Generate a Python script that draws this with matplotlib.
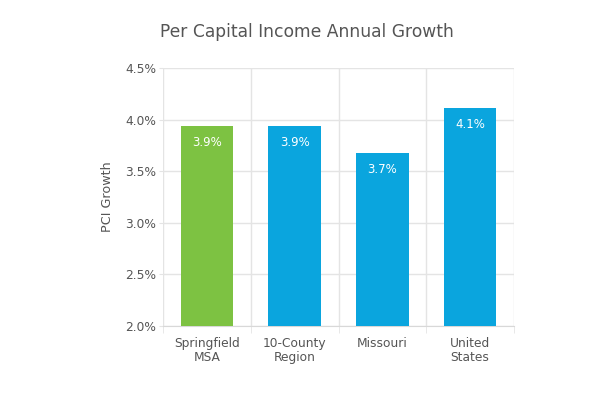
import matplotlib.pyplot as plt
import numpy as np

categories = ["Springfield\nMSA", "10-County\nRegion", "Missouri", "United\nStates"]
growth = [3.94, 3.94, 3.68, 4.11]
bar_colors = ["#7dc242", "#0aa5de", "#0aa5de", "#0aa5de"]
yticks = [2.0, 2.5, 3.0, 3.5, 4.0, 4.5]

plt.rcParams['font.family'] = ['DejaVu Sans']
text_color = "#555555"
grid_color = "#e4e4e4"

fig = plt.figure(figsize=(6.13, 3.96), dpi=100)
ax = fig.add_axes([0.266, 0.177, 0.5725, 0.651])

x = np.arange(len(categories))
ax.bar(x, [g - 2.0 for g in growth], bottom=2.0, width=0.6, color=bar_colors, zorder=3)

for xi, g in zip(x, growth):
    ax.text(xi, g - 0.16, f"{g:.1f}%", ha="center", va="center", color="white", fontsize=8.5, zorder=4)

ax.set_xlim(-0.5, len(categories) - 0.5)
ax.set_ylim(2.0, 4.5)
ax.set_yticks(yticks)
ax.set_yticklabels([f"{t:.1f}%" for t in yticks], color=text_color, fontsize=8.8)

# category labels centred, ticks/grid on the boundaries
ax.set_xticks(x)
ax.set_xticklabels(categories, color=text_color, fontsize=8.8, linespacing=1.1)
ax.tick_params(axis="x", length=0, pad=8)
ax.set_xticks(np.arange(-0.5, len(categories)), minor=True)
ax.tick_params(axis="x", which="minor", length=5, color=grid_color)
ax.tick_params(axis="y", length=3, color=grid_color, pad=2)

ax.grid(axis="y", color=grid_color, linewidth=1, zorder=0)
ax.grid(axis="x", which="minor", color=grid_color, linewidth=1, zorder=0)
for s in ["top", "right", "left"]:
    ax.spines[s].set_visible(False)
ax.spines["bottom"].set_color("#d8d8d8")

ax.set_ylabel("PCI Growth", color=text_color, fontsize=9.2, labelpad=8)
fig.text(0.5, 0.92, "Per Capital Income Annual Growth", ha="center", va="center",
         color=text_color, fontsize=12.3)

fig.savefig("out.png", dpi=100)
